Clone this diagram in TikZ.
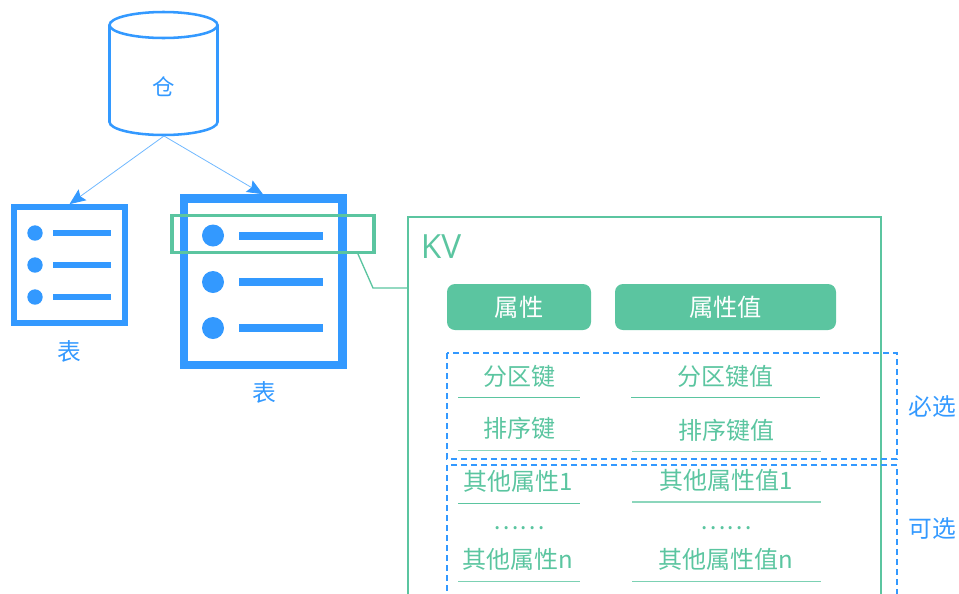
\documentclass[tikz,border=0pt]{standalone}
\usepackage{fontspec}
\setmainfont{Noto Sans CJK SC}
\newfontfamily\kvfont{Open Sans}
\usetikzlibrary{arrows.meta}
\definecolor{bl}{HTML}{3399FF}
\definecolor{gr}{HTML}{5BC5A0}
\def\px{0.75pt}
\tikzset{
  bluefont/.style={text=bl,font=\fontsize{17.8pt}{20pt}\selectfont,inner sep=0pt},
  greenfont/.style={text=gr,font=\fontsize{18pt}{20pt}\selectfont,inner sep=0pt},
  hdr/.style={fill=gr,rounded corners=6pt,inner sep=0pt,text=white,font=\fontsize{18.2pt}{20pt}\selectfont},
  rowline/.style={draw=gr,line width=0.9pt},
  dashbox/.style={draw=bl,line width=1.1pt,dash pattern=on 4.5pt off 3pt},
  tablebox/.style={draw=bl,rectangle,inner sep=0pt},
  link/.style={draw=bl!70!white,line width=0.6pt,-{Stealth[length=12pt,width=10pt,inset=2pt,color=bl,fill=bl]}},
  gline/.style={draw=gr,line width=1pt}
}
\begin{document}
\begin{tikzpicture}[x=0.75pt,y=-0.75pt]
\useasboundingbox (0,0) rectangle (959,593);
\clip (0,0) rectangle (959,593);
% cylinder
\draw[bl,line width=1.9pt,fill=white] (109.5,25) -- (109.5,122) arc[start angle=180,end angle=0,x radius=54,y radius=13] -- (217.5,25);
\draw[bl,line width=1.9pt] (163.5,25) ellipse[x radius=54,y radius=13];
\node[bluefont,font=\fontsize{16.8pt}{20pt}\selectfont] (cang) at (163.5,87) {仓};
\coordinate (cylb) at (164,136);
% tables
\node[tablebox,line width=5.5*\px,minimum width=110.6*\px,minimum height=116.2*\px] (tbl1) at (69.5,265) {};
\node[tablebox,line width=8.5*\px,minimum width=158.5*\px,minimum height=166.5*\px] (tbl2) at (263,281.75) {};
\foreach \y in {233,265,297}{
  \fill[bl] (35,\y) circle[radius=7.7];
  \fill[bl] (53,\y-3) rectangle (111,\y+3);
}
\foreach \y in {235.5,282,328}{
  \fill[bl] (213,\y) circle[radius=11];
  \fill[bl] (239,\y-4) rectangle (323,\y+4);
}
\node[bluefont] (lab1) at (69,351.5) {表};
\node[bluefont] (lab2) at (264.5,392.5) {表};
\draw[link] (cylb) -- (tbl1.north);
\draw[link] (cylb) -- (tbl2.north);
% highlight
\node[draw=gr,line width=2.6pt,rectangle,inner sep=0pt,minimum width=202*\px,minimum height=36.5*\px] (hl) at (273,234) {};
% KV
\node[draw=gr,line width=1.1pt,rectangle,inner sep=0pt,minimum width=473*\px,minimum height=500*\px] (kv) at (644.5,467) {};
\coordinate (hlfoot) at (358,254);
\coordinate (bend) at (373,288);
\coordinate (kvin) at (408,288);
\draw[gline] (hlfoot) -- (bend) -- (kvin);
\node[text=gr,font=\kvfont\fontsize{25pt}{28pt}\selectfont,inner sep=0pt] (kvt) at (441,247) {KV};
% headers
\node[hdr,minimum width=144*\px,minimum height=46*\px] (h1) at (519,307) {属性};
\node[hdr,minimum width=221*\px,minimum height=46*\px] (h2) at (725.5,307) {属性值};
% dashed
\draw[dashbox] (447,353) rectangle (897,459);
\draw[dashbox] (447,465) rectangle (897,610);
\node[bluefont] (req) at (932.5,407) {必选};
\node[bluefont] (opt) at (932.5,529) {可选};
% rows
\node[greenfont] (a1) at (519,376.5) {分区键};
\node[greenfont] (b1) at (725,376.5) {分区键值};
\node[greenfont] (a2) at (519,428.5) {排序键};
\node[greenfont] (b2) at (726,430.5) {排序键值};
\node[greenfont] (a3) at (518,481.5) {其他属性1};
\node[greenfont] (b3) at (726,480) {其他属性值1};
\node[greenfont] (a4) at (519,528) {……};
\node[greenfont] (b4) at (726,528) {……};
\node[greenfont] (a5) at (518,559.5) {其他属性n};
\node[greenfont] (b5) at (726,559.5) {其他属性值n};
\draw[rowline] (458,397.5) -- (580,397.5);
\draw[rowline] (631,397.5) -- (820,397.5);
\draw[rowline,gr!70!white] (458,450.5) -- (580,450.5);
\draw[rowline,gr!70!white] (632,451.5) -- (821,451.5);
\draw[rowline] (458,503.5) -- (580,503.5);
\draw[rowline,gr!70!white] (632,502) -- (821,502);
\draw[rowline,gr!80!white] (458,581.5) -- (580,581.5);
\draw[rowline,gr!80!white] (632,581.5) -- (821,581.5);
\end{tikzpicture}
\end{document}
